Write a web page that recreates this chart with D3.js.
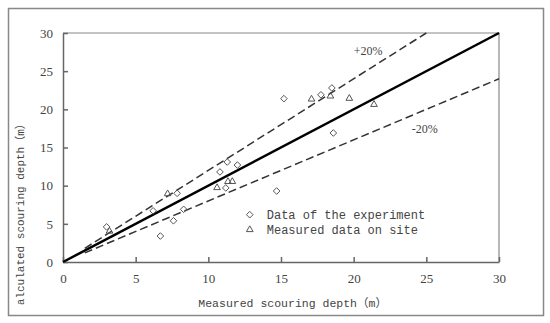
<!DOCTYPE html>
<html>
<head>
<meta charset="utf-8">
<script src="https://cdn.jsdelivr.net/npm/d3@7"></script>
<style>
	body { margin: 0; background: #fff; }
	svg { display: block; }
	.axis text { font-family: "Liberation Serif", serif; font-size: 13px; fill: #444; }
	.axis path, .axis line { stroke: #666; stroke-width: 1.5; }
	.mono { font-family: "Liberation Mono", "Noto Sans CJK SC", monospace; fill: #444; }
</style>
</head>
<body>
<svg id="chart"></svg>
<script>
// Data of the experiment (diamonds)
const expMeasured = [3.0, 6.7, 6.2, 7.6, 7.85, 8.3, 10.8, 11.3, 11.2, 12.0, 14.7, 15.2, 17.75, 18.5, 18.6];
const expCalculated = [4.6, 3.4, 6.7, 5.4, 9.0, 6.9, 11.8, 13.1, 9.7, 12.7, 9.3, 21.4, 21.9, 22.8, 16.9];
// Measured data on site (triangles)
const siteMeasured = [3.2, 7.2, 10.6, 11.35, 11.65, 17.1, 18.4, 19.7, 21.4];
const siteCalculated = [4.1, 9.0, 9.8, 10.6, 10.6, 21.4, 21.8, 21.5, 20.7];
const axisTicks = [0, 5, 10, 15, 20, 25, 30];
const legendLabels = ["Data of the experiment", "Measured data on site"];

const width = 550, height = 323;
const margin = { top: 33, right: 51, bottom: 61, left: 63 };
const innerW = width - margin.left - margin.right;
const innerH = height - margin.top - margin.bottom;

const svg = d3.select('#chart')
	.attr('width', width)
	.attr('height', height);

// outer frame
svg.append('rect')
	.attr('x', 8.5).attr('y', 8.5)
	.attr('width', 535).attr('height', 307)
	.attr('fill', 'none')
	.attr('stroke', '#888')
	.attr('stroke-width', 1.5);

const g = svg.append('g')
	.attr('transform', `translate(${margin.left},${margin.top})`);

const x = d3.scaleLinear().domain([0, 30]).range([0, innerW]);
const y = d3.scaleLinear().domain([0, 30]).range([innerH, 0]);

// top and right border of plot area
g.append('path')
	.attr('d', `M0,0H${innerW}V${innerH}`)
	.attr('fill', 'none')
	.attr('stroke', '#888')
	.attr('stroke-width', 1.2);

g.append('g')
	.attr('class', 'axis')
	.attr('transform', `translate(0,${innerH})`)
	.call(d3.axisBottom(x).tickValues(axisTicks).tickSize(-5).tickPadding(12).tickSizeOuter(0));

g.append('g')
	.attr('class', 'axis')
	.call(d3.axisLeft(y).tickValues(axisTicks).tickSize(-5).tickPadding(10).tickSizeOuter(0));

// reference lines
const line = d3.line().x(d => x(d[0])).y(d => y(d[1]));
g.append('path')
	.attr('d', line([[0, 0], [30, 30]]))
	.attr('stroke', '#000').attr('stroke-width', 2.5).attr('fill', 'none');
g.append('path')
	.attr('d', line([[1.5, 1.8], [25, 30]]))
	.attr('stroke', '#333').attr('stroke-width', 1.5).attr('stroke-dasharray', '8,4').attr('fill', 'none');
g.append('path')
	.attr('d', line([[1.5, 1.2], [30, 24]]))
	.attr('stroke', '#333').attr('stroke-width', 1.5).attr('stroke-dasharray', '8,4').attr('fill', 'none');

g.append('text')
	.attr('x', x(20)).attr('y', y(27.1))
	.attr('font-family', 'Liberation Serif, serif').attr('font-size', 12).attr('fill', '#444')
	.text('+20%');
g.append('text')
	.attr('x', x(24)).attr('y', y(16.9))
	.attr('font-family', 'Liberation Serif, serif').attr('font-size', 12).attr('fill', '#444')
	.text('-20%');

const diamond = d3.symbol().type(d3.symbolDiamond2).size(28);
const triangle = d3.symbol().type(d3.symbolTriangle2).size(32);

const expData = expMeasured.map((m, i) => ({ m, c: expCalculated[i] }));
const siteData = siteMeasured.map((m, i) => ({ m, c: siteCalculated[i] }));

g.selectAll('.exp')
	.data(expData)
	.join('path')
	.attr('class', 'exp')
	.attr('d', diamond)
	.attr('transform', d => `translate(${x(d.m)},${y(d.c)})`)
	.attr('fill', 'none').attr('stroke', '#555').attr('stroke-width', 1);

g.selectAll('.site')
	.data(siteData)
	.join('path')
	.attr('class', 'site')
	.attr('d', triangle)
	.attr('transform', d => `translate(${x(d.m)},${y(d.c) + 0.5})`)
	.attr('fill', 'none').attr('stroke', '#555').attr('stroke-width', 1);

// legend
const legend = g.append('g')
	.attr('transform', `translate(${x(12.85)},${y(6.2)})`);
legend.append('path').attr('d', diamond)
	.attr('fill', 'none').attr('stroke', '#555');
legend.append('path').attr('d', triangle)
	.attr('transform', 'translate(0,15)')
	.attr('fill', 'none').attr('stroke', '#555');
legend.selectAll('text')
	.data(legendLabels)
	.join('text')
	.attr('class', 'mono')
	.attr('x', 17)
	.attr('y', (d, i) => i * 15 + 4.5)
	.attr('font-size', 12)
	.text(d => d);

// axis titles
svg.append('text')
	.attr('class', 'mono')
	.attr('x', margin.left + x(15.8))
	.attr('y', 307)
	.attr('text-anchor', 'middle')
	.attr('font-size', 11.5)
	.text('Measured scouring depth（m）');

// the reference image cuts off the first letter of the y title
svg.append('clipPath').attr('id', 'yclip')
	.append('rect').attr('x', 0).attr('y', 60).attr('width', 60).attr('height', 244.5);

svg.append('g').attr('clip-path', 'url(#yclip)')
	.append('text')
	.attr('class', 'mono')
	.attr('transform', 'translate(24,215) rotate(-90)')
	.attr('text-anchor', 'middle')
	.attr('font-size', 11)
	.text('Calculated scouring depth（m）');
</script>
</body>
</html>
